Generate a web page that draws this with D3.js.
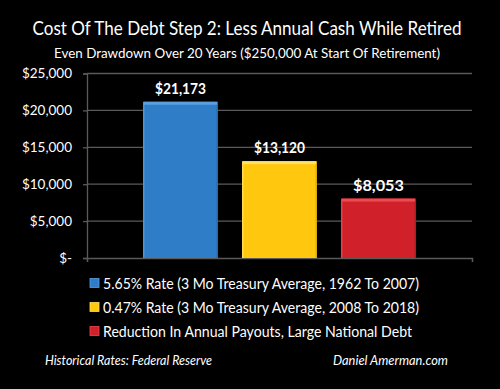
<!DOCTYPE html>
<html><head><meta charset="utf-8">
<script src="https://cdn.jsdelivr.net/npm/d3@7"></script>
<style>body{margin:0;background:#000}svg{display:block}</style>
</head><body>
<script>
const categories = ["5.65% Rate (3 Mo Treasury Average, 1962 To 2007)",
  "0.47% Rate (3 Mo Treasury Average, 2008 To 2018)",
  "Reduction In Annual Payouts, Large National Debt"];
const values = [21173, 13120, 8053];
const colors = ["#2f7cc7", "#ffc80f", "#d0212b"];
const lightColors = ["#5aa0e0", "#ffe060", "#ee4a50"];
const yTicks = [0, 5000, 10000, 15000, 20000, 25000];
const title = "Cost Of The Debt Step 2: Less Annual Cash While Retired";
const subtitle = "Even Drawdown Over 20 Years ($250,000 At Start Of Retirement)";
const footLeft = "Historical Rates: Federal Reserve";
const footRight = "Daniel Amerman.com";

const W = 500, H = 389;
const svg = d3.select("body").append("svg").attr("width", W).attr("height", H)
  .style("background", "#000");
const font = "Lato, 'Open Sans', sans-serif";

svg.append("text").attr("x", 247).attr("y", 35).attr("text-anchor", "middle")
  .attr("fill", "#fff").attr("font-family", font).attr("font-size", 19)
  .attr("textLength", 429).attr("lengthAdjust", "spacingAndGlyphs").text(title);
svg.append("text").attr("x", 247).attr("y", 58).attr("text-anchor", "middle")
  .attr("fill", "#fff").attr("font-family", font).attr("font-size", 14)
  .attr("textLength", 386).attr("lengthAdjust", "spacingAndGlyphs").text(subtitle);

const x0 = 87, x1 = 472;
const y = d3.scaleLinear().domain([0, 25000]).range([258, 73.5]);
const x = d3.scaleBand().domain(d3.range(values.length)).range([x0, x1])
  .paddingInner(0.2424).paddingOuter(0.566);

// gridlines
svg.append("g").selectAll("line").data(yTicks.filter(d => d > 0)).join("line")
  .attr("x1", x0).attr("x2", x1).attr("y1", d => y(d)).attr("y2", d => y(d))
  .attr("stroke", "#5a5a5a").attr("stroke-width", 1.3);

// y axis
const yAxis = d3.axisLeft(y).tickValues(yTicks).tickSize(4).tickPadding(11)
  .tickFormat(d => d === 0 ? "$-" : "$" + d3.format(",")(d));
const gy = svg.append("g").attr("transform", `translate(${x0},0)`).call(yAxis);
gy.select(".domain").attr("stroke", "#5a5a5a").attr("stroke-width", 1.3);
gy.selectAll(".tick line").attr("stroke", "#5a5a5a").attr("stroke-width", 1.3);
gy.selectAll(".tick text").attr("fill", "#fff").attr("font-family", font).attr("font-size", 13.5);

// x axis baseline
const xAxis = d3.axisBottom(d3.scaleLinear().domain([0, 1]).range([x0, x1]))
  .tickValues([0, 1]).tickSize(4).tickFormat("");
const gx = svg.append("g").attr("transform", `translate(0,${y(0)})`).call(xAxis);
gx.selectAll("path,line").attr("stroke", "#5a5a5a").attr("stroke-width", 1.3);

// gradients
const defs = svg.append("defs");
values.forEach((v, i) => {
  const g = defs.append("linearGradient").attr("id", "g" + i).attr("x1", 0).attr("x2", 1).attr("y1", 0).attr("y2", 0);
  g.append("stop").attr("offset", 0).attr("stop-color", lightColors[i]);
  g.append("stop").attr("offset", 0.03).attr("stop-color", colors[i]);
  g.append("stop").attr("offset", 0.97).attr("stop-color", colors[i]);
  g.append("stop").attr("offset", 1).attr("stop-color", d3.color(colors[i]).darker(0.6));
});

const bars = svg.append("g").selectAll("g").data(values).join("g");
bars.append("rect").attr("x", (d, i) => x(i)).attr("width", x.bandwidth())
  .attr("y", d => y(d)).attr("height", d => y(0) - y(d))
  .attr("fill", (d, i) => `url(#g${i})`);
bars.append("rect").attr("x", (d, i) => x(i) + 1).attr("width", x.bandwidth() - 2)
  .attr("y", d => y(d)).attr("height", 3)
  .attr("fill", (d, i) => lightColors[i]);
bars.append("text").attr("x", (d, i) => x(i) + x.bandwidth() / 2).attr("y", d => y(d) - 8)
  .attr("text-anchor", "middle").attr("fill", "#fff").attr("font-family", font)
  .attr("font-weight", "bold").attr("font-size", 14.5)
  .attr("textLength", 51).attr("lengthAdjust", "spacingAndGlyphs")
  .text(d => "$" + d3.format(",")(d));

// legend
const legendLens = [316, 316, 309];
const legend = svg.append("g").selectAll("g").data(categories).join("g")
  .attr("transform", (d, i) => `translate(90,${283 + i * 24})`);
legend.append("rect").attr("x", 0).attr("y", -4.5).attr("width", 9).attr("height", 9)
  .attr("fill", (d, i) => colors[i]).attr("stroke", (d, i) => lightColors[i]).attr("stroke-width", 0.8);
legend.append("text").attr("x", 13).attr("y", 5.5).attr("fill", "#fff")
  .attr("font-family", font).attr("font-size", 15.5)
  .attr("textLength", (d, i) => legendLens[i]).attr("lengthAdjust", "spacingAndGlyphs")
  .text(d => d);

svg.append("text").attr("x", 45).attr("y", 365).attr("fill", "#fff")
  .attr("font-family", font).attr("font-style", "italic").attr("font-size", 13)
  .attr("textLength", 167).attr("lengthAdjust", "spacingAndGlyphs").text(footLeft);
svg.append("text").attr("x", 333).attr("y", 365).attr("fill", "#fff")
  .attr("font-family", font).attr("font-style", "italic").attr("font-size", 13)
  .attr("textLength", 115).attr("lengthAdjust", "spacingAndGlyphs").text(footRight);
</script>
</body></html>
